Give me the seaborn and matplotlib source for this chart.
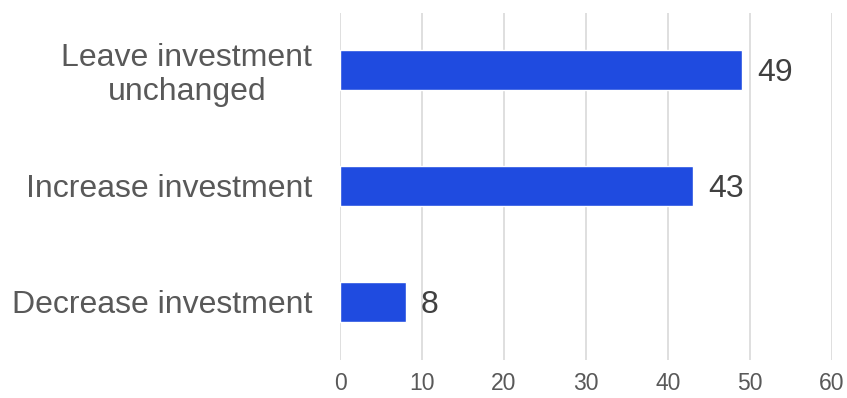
import matplotlib
matplotlib.use("Agg")
import matplotlib.pyplot as plt
import seaborn as sns
import pandas as pd

categories = ["Leave investment\nunchanged", "Increase investment", "Decrease investment"]
values = [49, 43, 8]
x_ticks = [0, 10, 20, 30, 40, 50, 60]

df = pd.DataFrame({"category": categories, "value": values})

sns.set_theme(style="white")
plt.rcParams["font.family"] = ["Liberation Sans", "DejaVu Sans"]

fig = plt.figure(figsize=(8.47, 3.98), dpi=100)
ax = fig.add_axes([340 / 847, 1 - 360 / 398, 492 / 847, 347 / 398])

sns.barplot(data=df, x="value", y="category", orient="h", color="#1F4BE0",
            saturation=1, width=0.345, ax=ax, zorder=3)

ax.set_xlim(0, 60)
ax.set_ylim(2.5, -0.49)
ax.set_xticks(x_ticks)
ax.set_xticklabels([str(t) for t in x_ticks], fontsize=16.5, color="#595959")
ax.grid(axis="x", color="#dcdcdc", linewidth=1.3, zorder=0)
ax.grid(axis="y", visible=False)
ax.tick_params(axis="x", length=0, pad=9)
ax.tick_params(axis="y", length=0, pad=20)
for lbl in ax.get_yticklabels():
    lbl.set_fontsize(23)
    lbl.set_color("#595959")
    lbl.set_multialignment("center")
    lbl.set_linespacing(1.15)
ax.set_xlabel("")
ax.set_ylabel("")
for s in ax.spines.values():
    s.set_visible(False)

for i, v in enumerate(values):
    ax.annotate(str(v), xy=(v, i), xytext=(11, 0), textcoords="offset points",
                va="center_baseline", ha="left", fontsize=23, color="#404040")

fig.savefig("out.png", dpi=100)
